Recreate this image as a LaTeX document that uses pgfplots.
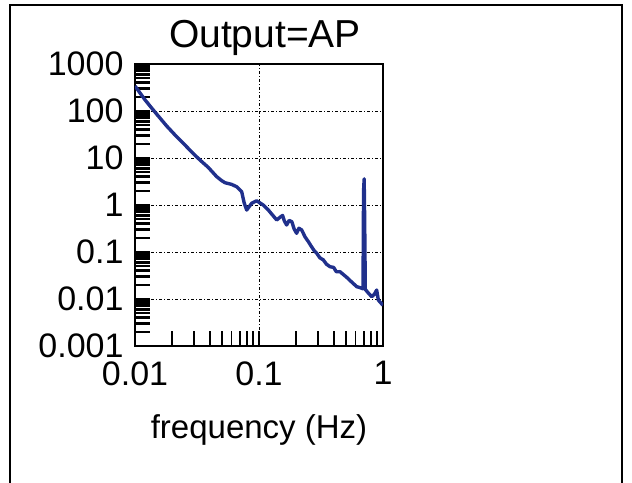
\documentclass[border=0pt]{standalone}
\usepackage{pgfplots}
\pgfplotsset{compat=1.18}
\usepackage{fontspec}
\setmainfont{Liberation Sans}
\definecolor{curveblue}{RGB}{32,48,140}
\begin{document}
\begin{tikzpicture}[x=1bp,y=1bp]
\useasboundingbox (0,0) rectangle (632,483);
\draw[line width=1.6bp,black] (10,-5) -- (10,478) -- (622,478) -- (622,-5);
\begin{axis}[
  at={(135bp,137bp)}, anchor=south west,
  scale only axis, width=248bp, height=282bp,
  xmode=log, ymode=log,
  xmin=0.01, xmax=1, ymin=0.001, ymax=1000,
  axis line style={line width=1.8bp},
  tick align=inside, xtick pos=bottom, ytick pos=left,
  xtick={0.01,0.1,1}, xticklabels={0.01,0.1,1},
  ytick={0.001,0.01,0.1,1,10,100,1000},
  yticklabels={0.001,0.01,0.1,1,10,100,1000},
  xmajorticks=true, ymajorticks=true, xminorticks=true, yminorticks=true,
  major tick length=15bp, minor tick length=15bp,
  tick style={black,line width=1.8bp},
  ytick style={line width=2.4bp},
  grid=major,
  major grid style={black,line width=0.8bp,dash pattern=on 3bp off 2bp on 1bp off 2bp},
  tick label style={font=\fontsize{34bp}{40bp}\selectfont},
  /pgf/number format/assume math mode=true,
  yticklabel style={xshift=-8bp},
  xticklabel style={yshift=-12bp},
  xlabel={frequency (Hz)},
  xlabel style={font=\fontsize{33bp}{40bp}\selectfont, yshift=-22bp},
  title={Output=AP},
  title style={font=\fontsize{39bp}{44bp}\selectfont, yshift=-1bp, xshift=6bp},
  clip=true,
]
\addplot[curveblue, line width=3.4bp, line join=round] coordinates {
(0.0100,340) (0.0110,240) (0.0120,175) (0.0132,128) (0.0150,85) (0.0180,48)
(0.0210,31) (0.0245,20.6) (0.0290,13) (0.0334,9.06) (0.0390,6.3) (0.0456,4.0)
(0.0500,3.3) (0.0532,2.98) (0.0600,2.75) (0.0660,2.45) (0.0725,1.92) (0.0760,1.1)
(0.0796,0.78) (0.0840,0.95) (0.0874,1.09) (0.0957,1.23) (0.108,1.0) (0.118,0.80)
(0.128,0.62) (0.139,0.48) (0.148,0.55) (0.155,0.60) (0.160,0.46) (0.167,0.375)
(0.175,0.47) (0.184,0.44) (0.192,0.31) (0.201,0.25) (0.210,0.32) (0.221,0.294)
(0.235,0.21) (0.250,0.166) (0.265,0.13) (0.280,0.105) (0.292,0.094) (0.310,0.075)
(0.330,0.068) (0.350,0.055) (0.374,0.0486) (0.400,0.047) (0.420,0.038) (0.450,0.0381)
(0.480,0.033) (0.509,0.029) (0.540,0.025) (0.580,0.021) (0.614,0.0183) (0.650,0.0175)
(0.690,0.0165) (0.697,2.0) (0.705,3.6) (0.712,0.4) (0.720,0.016) (0.760,0.0135)
(0.811,0.0112) (0.850,0.0125) (0.889,0.0155) (0.917,0.0095) (0.950,0.0085) (1.0,0.0074)
};
\end{axis}
\end{tikzpicture}
\end{document}
